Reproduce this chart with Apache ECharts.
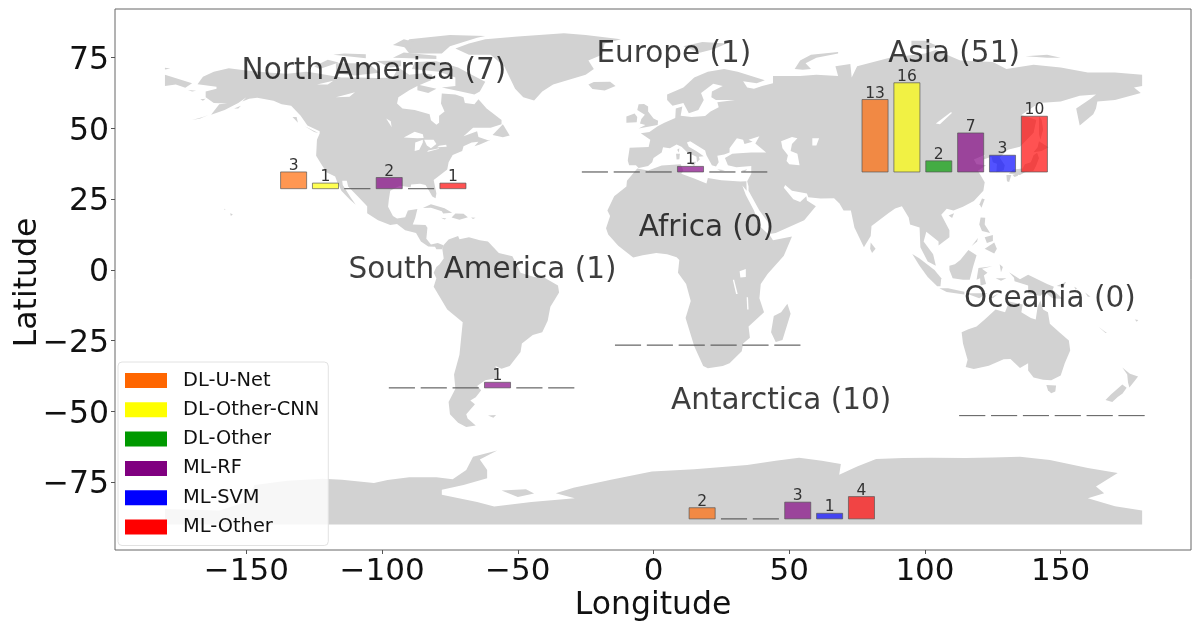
<!DOCTYPE html>
<html><head><meta charset="utf-8">
<style>html,body{margin:0;padding:0;background:#fff}#c{width:1200px;height:629px}</style>
<script src="https://cdn.jsdelivr.net/npm/echarts@6/dist/echarts.min.js"></script>
</head><body><div id="c"></div>
<script>
const methods = ['DL-U-Net','DL-Other-CNN','DL-Other','ML-RF','ML-SVM','ML-Other'];
const methodColors = ['#ff6600','#ffff00','#009900','#800080','#0000ff','#ff0000'];
const continents = ['North America (7)','Europe (1)','Asia (51)','Africa (0)','South America (1)','Oceania (0)','Antarctica (10)'];
const northAmerica = [3,1,0,2,0,1];
const europe = [0,0,0,1,0,0];
const asia = [13,16,2,7,3,10];
const africa = [0,0,0,0,0,0];
const southAmerica = [0,0,0,1,0,0];
const oceania = [0,0,0,0,0,0];
const antarctica = [2,0,0,3,1,4];
const continentCounts = [northAmerica,europe,asia,africa,southAmerica,oceania,antarctica];
// lon of first bar, lat of baseline
const barAnchors = [[-132.6,28.7],[-21.6,34.6],[81.6,34.6],[-9.4,-26.6],[-92.7,-41.7],[117.4,-51.5],[17.9,-88]];
const labelAnchors = [[-103,70.3],[7.5,76.3],[110.7,76.3],[19.5,14.8],[-63,-0.3],[146,-10.3],[47,-46.6]];
const xTicks = [-150,-100,-50,0,50,100,150];
const yTicks = [-75,-50,-25,0,25,50,75];

const landPolygons = [
// North America
[[-168,65.6],[-166,68.3],[-162,70],[-156.5,71.3],[-150,70.5],[-141,69.7],[-135,69.3],[-128,70],[-124,69.5],[-115,68],[-108,68],[-102,67.8],[-96,68],[-94,71.5],[-90,69],[-85,69.5],[-81.5,69],[-82,67],[-87,65],[-90,63.5],[-94,61],[-94.5,58.8],[-92.5,57],[-88,56.5],[-82.5,55],[-82,52.9],[-80,51.3],[-79,52],[-79,54.5],[-77,56],[-78.3,58.8],[-78,62.3],[-73,62],[-70,61],[-69.5,59],[-66,58.5],[-64.5,60.3],[-61.5,57],[-56,53],[-56,51.5],[-60,50.2],[-66.5,50.2],[-70,47.2],[-65,49],[-64.5,47],[-61,45.8],[-60,46],[-64,44.3],[-66,43.7],[-64.5,45.3],[-67,45],[-70,43.7],[-70.5,42],[-74,40.6],[-75.5,38],[-76,35.5],[-78,34],[-81,31.8],[-80,27],[-80.3,25.3],[-81.5,25.9],[-82.7,28],[-84,30],[-86,30.4],[-89.3,30.2],[-89.5,29.2],[-93.5,29.7],[-97,28],[-97.5,25],[-97.8,22.3],[-96,19],[-94.5,18.2],[-91.5,18.6],[-90.5,21],[-87,21.5],[-87.8,18.3],[-88.7,16],[-84,15.9],[-83.3,14.9],[-83.7,11],[-82,9],[-79.5,9.5],[-77.4,8.7],[-77.8,7.3],[-80,7.3],[-80.5,8.2],[-83,8.3],[-85.7,10],[-87.5,13],[-91.5,14],[-94.5,16.2],[-97,15.9],[-101.5,17.5],[-105.5,20],[-105.5,22.5],[-109,26],[-112.5,29.5],[-113,31.5],[-114.7,31.5],[-114.5,30],[-111.5,25.5],[-109.7,23],[-112,25],[-115,28],[-116.5,31],[-117.3,33],[-120.5,34.5],[-122.5,37.5],[-124.3,40.3],[-124,46],[-123,48.2],[-123,49],[-127.5,51],[-130,54.5],[-133.5,58],[-137,58.5],[-140,59.8],[-146,60.8],[-149,60.5],[-151.5,59.5],[-150,61],[-153,59],[-158,56.5],[-163,54.8],[-160,58.5],[-157,58.8],[-162,59],[-165,61],[-165,63],[-161,64],[-161,64.7]],
// Canadian Arctic and Greenland
[[-80,73.7],[-72,71.5],[-67,69],[-62,66.5],[-64,63],[-66,62],[-71,63],[-78,64.5],[-73,65],[-73,68],[-79,70],[-89,71],[-88,73.5]],
[[-117,73],[-105,73],[-101,69.7],[-110,68.7],[-117,69.5]],
[[-125,72],[-120,74.3],[-116,73.3],[-123,71]],
[[-90,76.5],[-78,76.5],[-75,79],[-65,82],[-62,82.7],[-75,83],[-90,81.5],[-92,79]],
[[-96,75],[-80,74.5],[-80,75.7],[-92,76.8]],
[[-96,79.5],[-88,78],[-86,80],[-92,81.5]],
[[-118,76],[-106,74.8],[-106,76.2],[-114,76.5]],
[[-102,73.8],[-97,71.5],[-93,72],[-93,74]],
[[-87,65.5],[-80,64],[-83,62.5],[-87,63.5]],
[[-59.3,47.7],[-55.5,51.5],[-53,47.5],[-55.5,46.9]],
[[-128.5,50.8],[-123.5,48.4],[-125,48.7]],
[[-133,54],[-131.5,54],[-131,52]],
[[-73,78.2],[-68,76],[-60,76],[-55,72],[-53,68],[-51,64],[-48,61],[-44,59.9],[-41,63],[-37,65.5],[-25,69],[-22,71],[-24,74],[-19,76],[-18,80],[-12,81.5],[-25,83],[-33,83.6],[-50,82.5],[-62,81.5],[-68,80]],
[[-24,65.5],[-22,66.4],[-16,66.5],[-14,65],[-18,63.4],[-22.5,63.9]],
[[11,79],[17,76.7],[22,78],[27,80],[18,80.5]],
// Bering region
[[-180,69],[-175,67.5],[-170,66],[-172.5,64.4],[-176,65.5],[-180,65]],
[[-180,71.4],[-178,71.2],[-180,70.8]],
[[-171.5,63.6],[-168.5,63.3],[-170,63]],
[[-167,60.3],[-165,60.5],[-166,59.8]],
[[-154.5,57],[-152,58],[-153,57]],
[[-170,53],[-166,54],[-164,54.7],[-167,53.5]],
[[-156,20],[-155,19.7],[-155.7,19]],
[[-158.2,21.6],[-157.7,21.4],[-158,21.2]],
// Caribbean
[[-85,21.9],[-82,23.2],[-77,21.8],[-74.2,20.2],[-77.5,19.9],[-78,20.7],[-82,22]],
[[-74.4,18.5],[-73,19.9],[-70,19.8],[-68.4,18.6],[-71.5,17.7]],
[[-78.3,18.4],[-76.3,18.2],[-77,17.8]],
[[-67.2,18.5],[-65.6,18.4],[-66.5,18]],
// South America
[[-77.4,8.7],[-75.5,10.7],[-72,12],[-71.5,10.8],[-68,11.5],[-64,10.5],[-61,10],[-57,6],[-52,4.8],[-50,1],[-49,-1],[-44,-2.5],[-40,-2.9],[-35.2,-5.5],[-34.8,-8],[-38,-13],[-39,-18],[-41,-22],[-44.5,-23],[-48.5,-26],[-49,-29],[-53,-34],[-56,-34.9],[-58.3,-34],[-57,-36.5],[-57.5,-38.2],[-62,-39],[-65,-41],[-63.5,-42.5],[-65.5,-45],[-67.5,-46.2],[-65.8,-47.5],[-69,-51],[-68.5,-52.5],[-65.5,-55],[-69,-55.5],[-72,-54],[-75,-51],[-75.5,-46.7],[-73,-42],[-73.5,-37],[-71.5,-30],[-70.3,-18.5],[-76,-14],[-81,-6],[-80,-3],[-81,-1],[-80,1],[-78.8,2],[-77.3,4],[-77.8,7.3]],
[[-61,-51.5],[-58,-51.3],[-59,-52.3]],
// Africa
[[-6,35.8],[-2,35.1],[3,36.9],[10,37.3],[11,35],[10.2,34],[15,32.3],[19.5,30.5],[20,32.5],[25,31.7],[32,31.2],[34.2,31.3],[34.3,28],[32.7,29.8],[34,26.5],[37,21],[39,15.5],[43,12],[44,10.5],[51,11.8],[48,5],[42,-1.5],[39.5,-5],[39,-10],[40.7,-15],[35,-20],[35.5,-24],[33,-26],[32.5,-28.8],[28,-33],[25.5,-34],[20,-34.8],[18.3,-34],[15,-27],[11.8,-17],[13.7,-11],[12,-5],[9,-1],[9.5,3.5],[8.5,4.5],[5,5.5],[1,6],[-4,5.2],[-7.5,4.4],[-13,8.5],[-16.7,12.5],[-17.5,14.7],[-16,19],[-17,21],[-14.5,26],[-10,29.5],[-9.8,31.5]],
[[49.3,-12],[50.5,-15.5],[47.5,-24.8],[45,-25.5],[43.3,-22],[44.3,-16.3],[47,-15]],
// Eurasia
[[-9,37],[-9.5,38.7],[-8.8,43.2],[-1.8,43.4],[-1.2,46],[-4.7,48.3],[-1.5,48.7],[1.5,50.8],[4,52],[8,53.7],[8.2,57],[10.6,57.7],[10,54.5],[14,54],[19,54.4],[21,56],[24,57.5],[23.5,59.2],[30,60],[23,60],[21.3,61],[21.5,63],[25.5,65],[22,65.8],[17.5,62.5],[18.5,60],[16.5,56.5],[13,55.4],[11,59],[7,58],[5,60],[5,62],[11,64.5],[15,68],[20,70],[26,71],[31,70],[41,67],[38,66],[33,66.7],[34.5,64.5],[37,64],[40,65],[44,66],[44,68.5],[54,68.5],[60,69],[68,68.5],[67,72],[72.5,72.8],[73,68],[75,72],[81,73.5],[87,75],[100,76.5],[104,77.7],[113,74],[125,73.5],[130,71],[140,72.5],[150,71.5],[160,69.8],[170,69.8],[180,69],[180,65],[177,64.5],[179.5,62.5],[170,60],[163.5,59.5],[163,57],[162,55],[157,51],[155.7,57],[161,60.5],[163,62],[157,61.5],[150,59.5],[142,59],[135.5,54.7],[141,53],[140,48.5],[135,43.5],[130.5,42.5],[127.5,39.7],[129.4,37],[129,35.2],[126.3,34.5],[126.5,37.5],[125,38],[124.5,40],[121.5,39],[122,40.7],[118,39],[119,37.3],[122.5,37],[119.5,35],[122,31],[121.5,28],[118,24.3],[114,22.3],[110.5,21],[108,21.6],[106,19.5],[109,14],[109,11.5],[105,8.6],[105,10],[100.5,13.5],[99.5,10],[103,5.5],[104,1.5],[101,3],[98.3,8],[98,15],[94.5,16],[94,18.5],[91.5,22.5],[89,21.7],[86.5,20],[80.3,15.5],[80,12],[77.5,8],[74,15],[72.7,21],[70,21],[68.5,23.5],[66.5,25.3],[61.5,25.2],[57,25.7],[56.5,27],[51,28],[48.5,30],[48,29],[51.5,25],[54,24],[56.3,26],[56.5,24.5],[59.8,22.5],[55.5,17.5],[52,16],[45,13],[43.3,12.8],[42.8,16],[39,21],[35,28],[35,29.5],[34.5,31.3],[36,34],[36,36.7],[30.5,36.3],[27.4,37],[26.3,39.5],[29,41],[31.5,41.2],[36,41.5],[41.5,41.5],[37.5,44.7],[39,47.2],[35,46],[36.5,45.3],[33.5,44.5],[33,46],[30.7,46.5],[28,43],[28,41.5],[26,40.8],[23.5,40.3],[24,38],[23,36.5],[21.5,37],[19.5,40.5],[19,42.2],[13.5,45.5],[12.3,45],[13,43.5],[16,41.8],[18.5,40.2],[16.7,40],[17,39],[16,38],[15.8,40],[12.5,41.5],[10.3,43.5],[8.5,44.3],[6,43],[3.5,43.3],[3,41.5],[0,39.5],[-0.5,38],[-2,36.7],[-5.5,36],[-6.5,37]],
// European islands
[[-5.5,50],[1.5,51.2],[1.7,52.7],[0,53.5],[-2,56],[-2,57.7],[-3.5,58.6],[-5.5,58.5],[-6,56.5],[-3.2,54.8],[-4.5,53.3],[-5,51.7],[-3,51.2]],
[[-10,52],[-6.2,52.2],[-6,54],[-7,55.3],[-10,54.2]],
[[12.5,38],[15.6,38.2],[15,36.7]],
[[8.3,41],[9.7,41],[9.5,39.1],[8.5,39]],
[[8.7,42.5],[9.5,43],[9.3,41.5]],
[[23.5,35.6],[26.3,35.2],[24.7,34.9]],
[[32.4,35],[34.5,35.6],[33.7,34.7]],
[[52,71],[55,70.7],[58,71],[56,73],[60,75],[68,76.5],[68,77],[58,76],[54,74]],
[[95,79],[100,78],[105,79],[100,81],[95,81]],
[[137,75.5],[145,75],[150,75],[145,76]],
// East Asia and Indonesia
[[80,9.7],[81.8,7.5],[80.5,6],[79.8,7.5]],
[[130.9,34],[135,33.5],[136.8,34.5],[140,35],[141,37],[142,39.5],[141.3,41.4],[140,40.5],[139,38],[136.8,37.3],[136,35.8],[132.5,35.5]],
[[140,41.6],[143,42],[145.5,43.3],[142,45.5],[141.5,43.3]],
[[130,33.5],[131.8,33.5],[131,31.1],[130.2,31.3]],
[[132.3,33.5],[134.5,34.2],[134.2,33.3],[133,32.8]],
[[142,54.3],[143,53],[143.5,49.5],[142.5,46],[142,48],[142,51]],
[[121,25.2],[122,25],[120.8,22],[120.1,23.2]],
[[108.7,19.2],[110.7,20],[110,18.3]],
[[120.5,18.5],[122.2,18.4],[122,16],[124,13],[121,13.7],[120,16]],
[[122,7.5],[125.5,9.7],[126.5,7.5],[125.5,5.8]],
[[122,11.5],[125,12.3],[125,10.2],[122.8,9.5]],
[[117.2,8.4],[119.5,11.3],[119.2,10]],
[[109,1.5],[111,2],[113,3.5],[116,7],[119,5.2],[117.7,1],[116.5,-3.5],[114,-3.5],[110.2,-3],[109,0]],
[[95.3,5.6],[98,4],[103.5,0],[106,-3],[105.7,-5.8],[104.5,-5.8],[101,-2.5],[98,1.5]],
[[105.3,-6.5],[108.5,-6.5],[114.5,-7.7],[114.5,-8.7],[108,-7.8]],
[[115,-8.3],[119,-8.3],[123,-8.3],[120,-10]],
[[124,-9.8],[127,-8.4],[125,-10]],
[[119.7,0.7],[124.8,1.3],[121,0.4],[123,-1],[121.7,-2],[122.5,-5],[120.5,-5.5],[120.3,-3],[119,-3.5]],
[[127.5,2],[128.7,1],[128,-0.8]],
[[126,-3],[130,-3],[128,-3.8]],
[[131,-0.8],[135,-3.3],[138,-1.7],[145,-5],[147.5,-6],[147,-7],[150.8,-10.3],[147,-10],[144,-7.7],[142.5,-9.2],[138,-8.3],[138,-5.5],[133,-4],[132.8,-2.8]],
[[148.5,-5.7],[152,-4.2],[151,-6]],
[[155,-6],[156,-6.5],[155.5,-7]],[[159,-8],[161,-9.5],[160,-9.5]],
// Oceania
[[113.5,-22],[114,-26],[115.7,-31.8],[115,-34.3],[118,-35],[123.5,-33.9],[129,-31.6],[131.5,-31.5],[135,-34.7],[138,-33],[138,-35.6],[140,-38],[143.5,-38.8],[146.5,-39],[150,-37.3],[151.5,-33],[153.5,-28.5],[153,-25],[149.5,-22],[146,-19],[145.3,-15],[143.5,-14],[142.5,-10.8],[141.5,-13],[140.8,-17.5],[139,-17],[135.5,-15],[136,-12.2],[131,-11.2],[129.5,-15],[126,-14],[122,-17.5],[119,-20],[116,-21]],
[[144.7,-40.7],[148.3,-40.9],[148,-43],[146.5,-43.6],[145.3,-42.5]],
[[172.7,-34.5],[175.5,-36.7],[178.5,-37.7],[177,-39.5],[175.3,-41.6],[174.8,-39.8],[174.5,-37]],
[[172.7,-40.5],[174.3,-41.7],[172.8,-43.7],[171,-44.9],[169,-46.7],[166.5,-46],[168.5,-44]],
[[164,-20.2],[167,-22.3],[166.5,-22.3]],
[[177.3,-17.5],[178.6,-17.7],[178,-18.3]],
// Antarctica
[[-180,-84.5],[-160,-85],[-150,-82],[-147,-76],[-135,-74.5],[-122,-73.8],[-114.8,-74.2],[-103,-75.3],[-98,-74.3],[-90,-73.3],[-80,-73.3],[-74,-74],[-69,-70.7],[-66.5,-66],[-57.6,-63.8],[-64,-67],[-61.3,-70.7],[-61.3,-73.6],[-70,-76],[-78,-77.7],[-78,-79.5],[-65,-82],[-58.7,-83.6],[-45,-82],[-29,-80.7],[-36,-78.9],[-29.5,-77],[-15.7,-74.2],[-0.6,-71.3],[15,-70.5],[34.5,-69],[45,-67.5],[53.6,-66.4],[62,-67.5],[69,-68.6],[68.4,-72.4],[75,-69.5],[82,-66.8],[92,-66.5],[102,-66.4],[115,-66.5],[125,-66.3],[135,-66],[146,-67.2],[160,-70],[171,-71.8],[163,-76.6],[166,-78.9],[160,-80.7],[170,-83.5],[180,-85],[180,-90],[-180,-90]],
[[-56,-78],[-47,-77.5],[-44,-79],[-50,-80.3]]
];
const inlandWaters = [
[[-92,46.8],[-88,48.8],[-85,47.9],[-84.7,46.6],[-87,46.5]],
[[-88,42],[-87.8,45],[-85,46],[-85,45],[-86.3,42.5]],
[[-84.5,46],[-81,46],[-80,44.5],[-82,43],[-83.5,44]],
[[-83.4,41.7],[-79,42.8],[-79,43],[-83,42.2]],
[[-79.7,43.3],[-76.2,43.5],[-76.4,44.2],[-79,43.9]],
[[-98.5,53.5],[-96.5,50.5],[-96.8,52.5]],
[[-117,61],[-110,62.8],[-112,61.2]],
[[-124,65.5],[-118,66.8],[-120,65.5]],
[[47,45.5],[51,47],[53,46.5],[51,44.5],[50.5,42],[53,41],[53.8,37],[50,37.3],[49,38.5],[49.5,40.5],[47.5,43]],
[[58.5,46.5],[61,46.5],[60,44],[58.5,44]],
[[104,51.7],[109.5,55.7],[110,55.5],[105.5,51.5]],
[[31.7,-0.5],[34,0.3],[34,-2.5],[32,-2.7]],
[[29.2,-3.5],[29.7,-3.5],[31,-8.5],[30.4,-8.5]],
[[34.3,-9.7],[34.8,-9.7],[35,-14],[34.5,-14]]
];

const lonMin=-198.4, lonMax=198, latMin=-99, latMax=92.2;
const barStep=11.74, barWidth=9.6, degPerCount=1.97;
const FONT='DejaVu Sans';

function polySeries(list,fill,z){
  return {type:'custom',coordinateSystem:'cartesian2d',silent:true,clip:true,z:z,
    data:list.map((p,i)=>[p[0][0],p[0][1],i]),
    renderItem:function(params,api){
      const pts=list[params.dataIndex].map(p=>api.coord(p));
      return {type:'polygon',shape:{points:pts},style:{fill:fill,stroke:'none'}};
    }};
}
const methodSeries=methods.map((name,m)=>({
  name:name,type:'custom',coordinateSystem:'cartesian2d',clip:false,z:5,silent:true,
  itemStyle:{color:methodColors[m]},
  data:continentCounts.map((vals,c)=>[barAnchors[c][0]+m*barStep,barAnchors[c][1],vals[m]]),
  renderItem:function(params,api){
    const lon=api.value(0),base=api.value(1),v=api.value(2);
    const a=api.coord([lon-barWidth/2,base]);
    const b=api.coord([lon+barWidth/2,base+v*degPerCount]);
    const kids=[{type:'rect',
      shape:{x:a[0],y:b[1],width:b[0]-a[0],height:a[1]-b[1]},
      style:{fill:v>0?methodColors[m]:'none',stroke:'#555',lineWidth:1,opacity:0.68}}];
    if(v>0)kids.push({type:'text',z2:5,
      style:{text:String(v),x:(a[0]+b[0])/2,y:b[1]+2,align:'center',verticalAlign:'bottom',
        font:'15.5px "'+FONT+'"',fill:'#333'}});
    return {type:'group',children:kids};
  }}));
const labelSeries={type:'custom',coordinateSystem:'cartesian2d',clip:false,silent:true,z:6,
  data:labelAnchors.map((p,i)=>[p[0],p[1],i]),
  renderItem:function(params,api){
    const c=api.coord([api.value(0),api.value(1)]);
    return {type:'text',style:{text:continents[params.dataIndex],x:c[0],y:c[1],align:'center',verticalAlign:'middle',
      font:'29.5px "'+FONT+'"',fill:'rgba(0,0,0,0.76)'}};
  }};
const fmt=v=>String(v).replace('-','\u2212');
const chart=echarts.init(document.getElementById('c'),null,{renderer:'canvas'});
chart.setOption({
  animation:false,
  backgroundColor:'#fff',
  textStyle:{fontFamily:FONT},
  grid:{left:115,right:9,top:9,bottom:79,outerBoundsMode:'none',containLabel:false,show:true,borderColor:'#666',borderWidth:1,backgroundColor:'#fff'},
  xAxis:{type:'value',min:lonMin,max:lonMax,name:'Longitude',nameLocation:'middle',nameGap:40,nameMoveOverlap:false,
    nameTextStyle:{fontFamily:FONT,fontSize:31.5,color:'#111'},
    axisLine:{show:false,onZero:false},splitLine:{show:false},
    axisTick:{show:true,length:4,customValues:xTicks,lineStyle:{color:'#555'}},
    axisLabel:{customValues:xTicks,formatter:fmt,fontFamily:FONT,fontSize:31,color:'#111',margin:6}},
  yAxis:{type:'value',min:latMin,max:latMax,name:'Latitude',nameLocation:'middle',nameGap:71,nameMoveOverlap:false,
    nameTextStyle:{fontFamily:FONT,fontSize:31.5,color:'#111',padding:[0,6,0,0]},
    axisLine:{show:false,onZero:false},splitLine:{show:false},
    axisTick:{show:true,length:4,customValues:yTicks,lineStyle:{color:'#555'}},
    axisLabel:{customValues:yTicks,formatter:v=>'{a|'+fmt(v)+'}',margin:6,
      rich:{a:{fontFamily:FONT,fontSize:31.5,color:'#111',padding:[6,0,0,0]}}}},
  legend:{show:true,orient:'vertical',left:118,top:362,data:methods.map(n=>({name:n,icon:'rect'})),
    itemWidth:42,itemHeight:15,itemGap:10.3,selectedMode:false,
    padding:[9,9,9,7],backgroundColor:'rgba(255,255,255,0.82)',borderColor:'#e2e2e2',borderWidth:1,borderRadius:4,
    textStyle:{fontFamily:FONT,fontSize:19.4,color:'#111',padding:[0,0,0,11]},z:20},
  series:[polySeries(landPolygons,'#d2d2d2',1),polySeries(inlandWaters,'#ffffff',2),...methodSeries,labelSeries]
});
</script></body></html>
